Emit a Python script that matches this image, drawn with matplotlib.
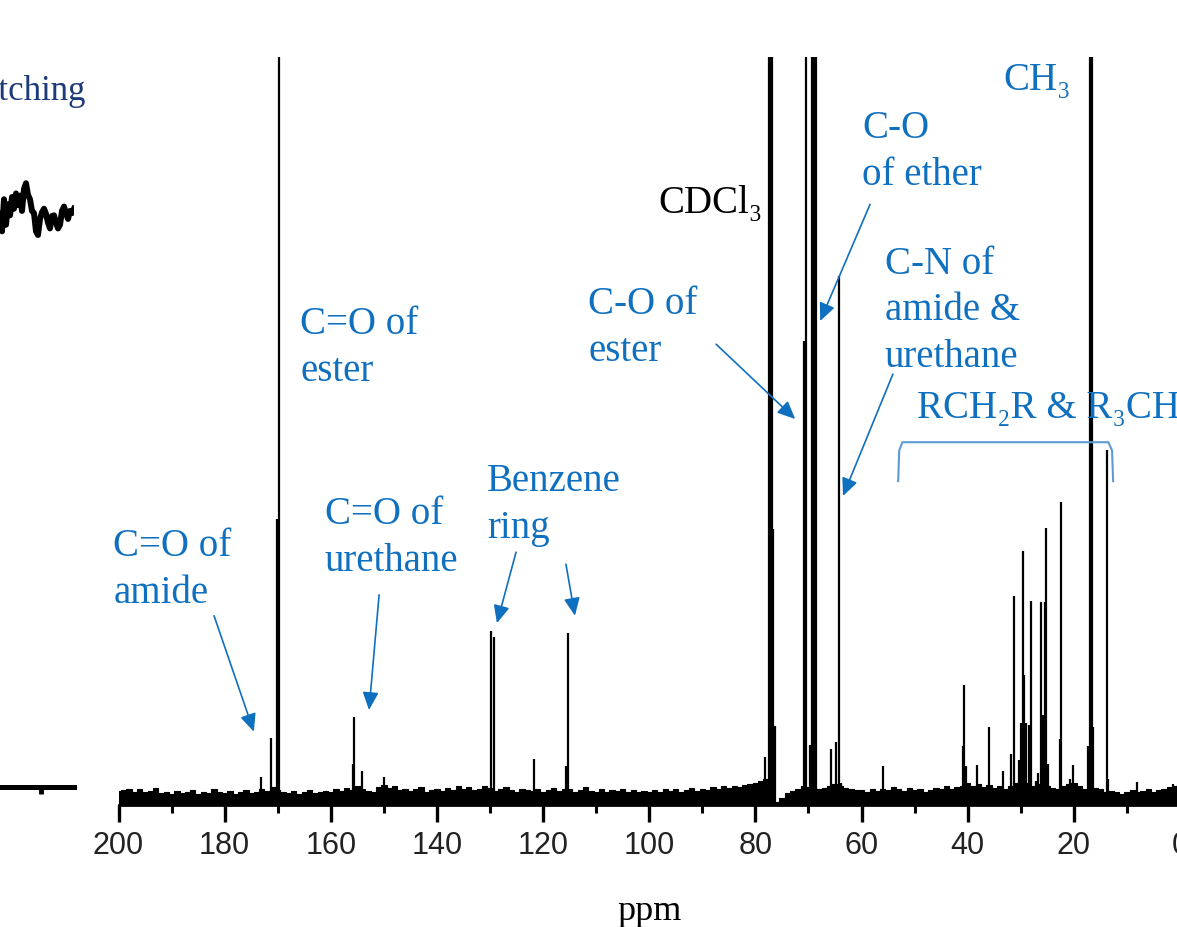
import matplotlib
matplotlib.use("Agg")
import numpy as np
import matplotlib.pyplot as plt
from matplotlib.ticker import MultipleLocator

# 13C NMR peak positions (ppm) and heights (intensity, frame top = 100)
peak_ppm = [173.2, 171.3, 170.1, 169.8,
            155.8, 155.6, 154.2, 149.9,
            129.8, 129.3, 121.7, 115.7, 115.3,
            78.5, 78.2, 77.5, 77.2, 76.9, 76.6, 76.4,
            70.8, 70.5, 69.7, 69.3, 69.0, 68.6,
            65.8, 64.8, 64.3, 63.9, 56.0,
            40.9, 40.7, 40.3, 38.3, 36.0, 33.3, 31.9, 31.2,
            30.4, 30.0, 29.8, 29.5, 29.4, 29.2, 29.0, 28.4, 28.1,
            27.1, 26.7, 26.1, 25.8, 25.5, 25.2, 24.8,
            22.6, 22.4, 20.7, 20.2,
            17.3, 16.9, 16.6, 16.3, 13.8, 13.5, 8.1, 1.3]
peak_height = [3.7, 9.0, 38.2, 140,
               5.5, 11.8, 4.5, 3.7,
               23.3, 22.5, 6.1, 5.2, 23.0,
               3.0, 6.4, 140, 140, 140, 36.9, 10.6,
               62.0, 140, 8.0, 140, 140, 140,
               7.5, 8.4, 70.7, 3.0, 5.2,
               7.9, 16.0, 5.2, 5.3, 10.4, 4.5, 6.8, 28.0,
               6.0, 11.0, 10.5, 34.0, 17.4, 11.0, 11.0, 10.7, 27.3,
               3.2, 4.3, 27.2, 12.0, 27.2, 37.0, 5.5,
               8.8, 40.5, 3.5, 5.3,
               7.9, 140, 140, 10.4, 47.4, 3.5, 3.1, 2.8]

# baseline noise level, 1 ppm steps from 200 down to 0
noise_ppm = list(range(200, -1, -1))
noise_level = [1.9, 2.0, 2.1, 1.8, 2.2, 1.7, 1.9, 2.3, 1.6, 1.8, 1.5, 1.9, 1.6, 1.7, 2.0, 1.5, 1.8, 1.6, 2.1, 1.7,
               1.6, 1.9, 1.5, 1.8, 2.0, 1.6, 1.7, 2.2, 1.9, 2.4, 2.0, 1.8, 1.6, 1.9, 1.5, 1.7, 2.0, 1.6, 1.8, 1.9,
               1.7, 2.1, 1.9, 2.3, 2.0, 2.6, 2.2, 1.9, 1.8, 2.4, 2.7, 2.3, 2.5, 2.0, 2.2, 1.9, 2.1, 2.4, 1.8, 2.0,
               2.2, 1.9, 2.3, 2.0, 2.5, 2.1, 2.4, 2.0, 2.2, 2.6, 2.3, 1.9, 2.1, 2.4, 2.0, 1.8, 2.2, 2.0, 1.9, 2.1,
               1.8, 2.0, 2.3, 1.9, 2.2, 2.1, 1.7, 2.0, 2.4, 1.9, 1.8, 2.1, 1.7, 2.0, 1.9, 2.2, 1.8, 2.0, 1.7, 1.9,
               1.8, 2.0, 1.7, 2.1, 1.9, 2.2, 1.8, 2.0, 2.3, 1.9, 2.1, 2.0, 2.4, 2.2, 2.5, 2.3, 2.6, 2.4, 2.7, 2.8,
               3.0, 3.2, 3.5, 0.3, 0.4, 1.0, 1.6, 1.9, 2.2, 2.6, 2.4, 2.6, 2.2, 2.3, 2.5, 2.8, 2.6, 2.3, 2.1, 2.0,
               2.0, 1.8, 2.1, 1.9, 2.2, 2.0, 2.4, 2.1, 1.9, 2.3, 2.0, 2.2, 1.8, 2.0, 2.3, 2.1, 2.5, 2.2, 2.4, 2.6,
               3.0, 2.6, 2.8, 2.4, 2.7, 2.3, 2.5, 2.2, 2.6, 3.0, 3.2, 3.0, 2.6, 2.4, 2.8, 2.5, 2.3, 2.2, 2.6, 2.8,
               2.9, 2.6, 2.2, 2.0, 2.3, 2.1, 1.8, 1.9, 1.7, 1.5, 1.8, 2.0, 1.7, 1.9, 2.1, 1.8, 2.0, 2.2, 2.4, 2.6,
               2.8]

# edge of the neighbouring panel (cropped)
frag_x = list(range(0, 76, 2))
frag_y = [78.5, 76.1, 80.5, 77.0, 79.8, 78.3, 80.8, 79.2, 81.3, 79.7, 81.0, 78.9, 81.9, 82.7, 81.1, 80.5,
          78.9, 78.6, 76.1, 75.6, 77.8, 78.7, 79.2, 78.5, 77.3, 76.5, 78.2, 78.3, 77.3, 76.5, 77.0, 78.9,
          79.5, 78.6, 77.8, 78.9, 78.6, 79.2]

W, H = 1177, 928
serif = ['Liberation Serif', 'DejaVu Serif']
blue = '#1070C0'

plt.rcParams['font.family'] = ['Liberation Sans', 'DejaVu Sans']
fig = plt.figure(figsize=(W / 100, H / 100), dpi=100, facecolor='w')

# neighbouring panel fragment
ax0 = fig.add_axes([0, 1 - 787.5 / H, 74 / W, (787.5 - 58) / H])
ax0.plot(frag_x, frag_y, color='k', lw=4.3, solid_joinstyle='round')
ax0.set_xlim(0, 74)
ax0.set_ylim(0, 100)
for s in ['top', 'left', 'right']:
    ax0.spines[s].set_visible(False)
ax0.spines['bottom'].set_linewidth(3.6)
ax0.set_xticks([41])
ax0.set_yticks([])
ax0.tick_params(axis='x', length=5, width=3.5, labelbottom=False)
ax0.patch.set_visible(False)
fig.text(86 / W, 1 - 92 / H, 'stretching', ha='right', va='center', fontsize=25,
         color='#1F3A78', family=serif)

# main spectrum
ax = fig.add_axes([118.5 / W, 1 - 806 / H, (1180 - 118.5) / W, (806 - 58) / H])
ax.fill_between(noise_ppm, 0, noise_level, step='mid', color='k', lw=0)
ax.step(noise_ppm, noise_level, where='mid', color='k', lw=0.8)
ax.vlines(peak_ppm, 0, peak_height, color='k', lw=1.6)

ax.set_xlim(200, 0)
ax.set_ylim(0, 100)
for s in ['top', 'left', 'right']:
    ax.spines[s].set_visible(False)
ax.spines['bottom'].set_linewidth(2)
ax.xaxis.set_major_locator(MultipleLocator(20))
ax.xaxis.set_minor_locator(MultipleLocator(10))
ax.set_yticks([])
ax.tick_params(axis='x', which='major', direction='out', length=12, width=2.4,
               labelsize=22, pad=6, labelcolor='#222222')
ax.tick_params(axis='x', which='minor', direction='out', length=5.5, width=2.2)
ax.set_xlabel('ppm', fontsize=26, family=serif)
ax.xaxis.set_label_coords(0.5, -0.1417)
ax.xaxis.label.set_va('center')

# peak assignments
labels = [
    ('C=O of\namide', 201.0, 31.6, blue),
    ('C=O of\nester', 165.8, 61.2, blue),
    ('C=O of\nurethane', 161.1, 35.8, blue),
    ('Benzene\nring', 130.6, 40.2, blue),
    ('C-O of\nester', 111.5, 63.9, blue),
    ('CDCl\u2083', 98.2, 80.6, 'k'),
    ('C-O\nof ether', 59.9, 87.4, blue),
    ('C-N of\namide &\nurethane', 55.6, 66.2, blue),
    ('RCH\u2082R & R\u2083CH', 49.6, 53.2, blue),
    ('CH\u2083', 33.3, 97.0, blue),
]
for txt, x, y, c in labels:
    ax.text(x, y, txt, ha='left', va='center', fontsize=28, color=c,
            family=serif, linespacing=1.35, clip_on=False)

arrows = [
    ((182.0, 25.3), (174.5, 9.8)),
    ((150.9, 28.1), (152.8, 12.7)),
    ((125.1, 33.8), (128.7, 24.3)),
    ((115.7, 32.2), (114.0, 25.3)),
    ((87.4, 61.6), (72.5, 51.6)),
    ((58.4, 80.3), (67.8, 64.7)),
    ((54.1, 57.6), (63.5, 41.3)),
]
for tail, tip in arrows:
    ax.annotate('', xy=tip, xytext=tail,
                arrowprops=dict(arrowstyle='-|>,head_length=0.6,head_width=0.27',
                                mutation_scale=18, color=blue, lw=1.2,
                                shrinkA=0, shrinkB=0))

# bracket over the aliphatic region
ax.plot([53.1, 52.9, 52.3, 13.5, 12.8, 12.6], [43.3, 47.4, 48.5, 48.5, 47.4, 43.3],
        color='#5B9BD5', lw=1.5, solid_joinstyle='round')

fig.savefig('out.png', dpi=100)
